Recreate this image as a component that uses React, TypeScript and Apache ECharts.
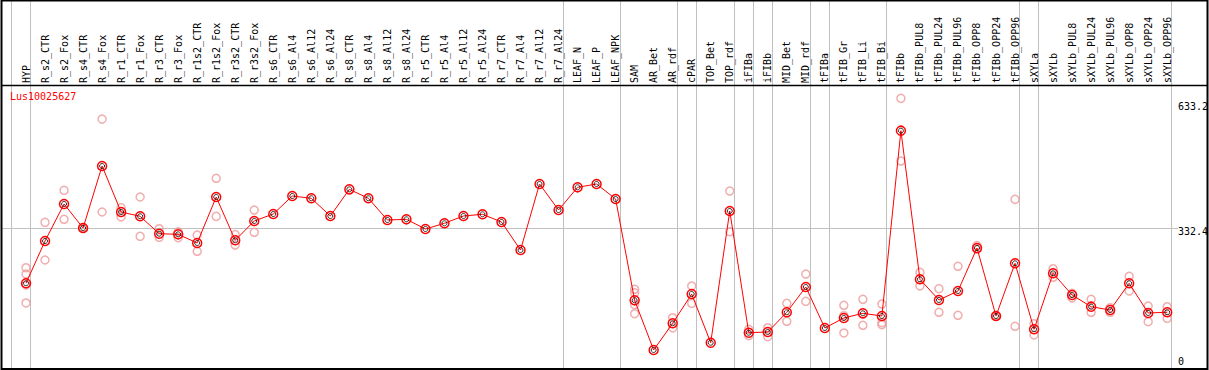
import React, { useEffect, useRef } from "react";
import * as echarts from "echarts";

const geneName = "Lus10025627";

const categories = [
  "HYP",
  "R_s2_CTR", "R_s2_Fox", "R_s4_CTR", "R_s4_Fox",
  "R_r1_CTR", "R_r1_Fox", "R_r3_CTR", "R_r3_Fox",
  "R_r1s2_CTR", "R_r1s2_Fox", "R_r3s2_CTR", "R_r3s2_Fox",
  "R_s6_CTR", "R_s6_Al4", "R_s6_Al12", "R_s6_Al24",
  "R_s8_CTR", "R_s8_Al4", "R_s8_Al12", "R_s8_Al24",
  "R_r5_CTR", "R_r5_Al4", "R_r5_Al12", "R_r5_Al24",
  "R_r7_CTR", "R_r7_Al4", "R_r7_Al12", "R_r7_Al24",
  "LEAF_N", "LEAF_P", "LEAF_NPK",
  "SAM", "AR_Bet", "AR_rdf", "cPAR", "TOP_Bet", "TOP_rdf",
  "iFIBa", "iFIBb", "MID_Bet", "MID_rdf",
  "tFIBa", "tFIB_Gr", "tFIB_Li", "tFIB_Bi",
  "tFIBb", "tFIBb_PUL8", "tFIBb_PUL24", "tFIBb_PUL96", "tFIBb_OPP8", "tFIBb_OPP24", "tFIBb_OPP96",
  "sXYLa", "sXYLb", "sXYLb_PUL8", "sXYLb_PUL24", "sXYLb_PUL96", "sXYLb_OPP8", "sXYLb_OPP24", "sXYLb_OPP96",
];

const means = [
  200,
  301.7, 390.8, 333, 482.2,
  371.5, 361.2, 319.3, 317.8,
  297, 407.6, 303.4, 349.9,
  366.7, 410, 404.5, 361.9,
  426, 404.5, 352.3, 353.9,
  330.6, 344.3, 361.9, 366,
  347.5, 280, 438.9, 376.3,
  430.9, 438.9, 402.8,
  159, 39.5, 103.7, 174.2, 57, 373.9,
  81.1, 82.8, 130.2, 191,
  92.4, 116.5, 127.7, 121.3,
  567.2, 209.6, 159.8, 181.4, 284.9, 121.3, 248.1,
  89.3, 224, 171.8, 143.7, 135.7, 200, 128.5, 130.2,
];

const replicates: number[][] = [
  [237.5, 222.3, 195.9, 152.6],
  [346.7, 256], [423.7, 354], [334, 332], [595, 371.5],
  [381.9, 359.5], [407.6, 313], [331.3, 310.6], [324, 309.7],
  [316, 277], [452.6, 361], [317, 292], [376.3, 322.7],
  [], [], [], [],
  [], [], [], [],
  [], [], [], [],
  [], [], [], [],
  [], [], [],
  [185.5, 177, 148.5, 126.8], [], [117.2, 92.4], [193.5, 151.8], [], [422, 324],
  [89.3, 73.9], [93.1, 71.5], [151.8, 108.5], [222.3, 156.6],
  [], [147, 122, 80.4], [161.5, 98.9], [150.1, 105.2, 100.3],
  [645, 494.2], [226.4, 193.5], [187, 130.2], [240.9, 123], [290.5, 281.8], [122, 120.6], [402, 96.5],
  [102.7, 75.6], [235, 214.4], [175.9, 164.6], [161.5, 130.2], [141.2, 130.2], [216.8, 181.4], [145.3, 107.6], [143.6, 115.7],
];

// last category index of each group (separator drawn right after it)
const groupEnds = [-1, 0, 28, 31, 34, 35, 37, 38, 39, 41, 42, 45, 52, 53, 60];
const yTicks = [0, 332.4, 633.2];
const yMax = 674.7;

const FONT = "'DejaVu Sans Mono', 'Liberation Mono', monospace";
const GRID_TOP = 86;
const GRID_BOTTOM = 3.6;
const W = 1209;
const H = 370;

export default function App() {
  const ref = useRef<HTMLDivElement>(null);

  useEffect(() => {
    document.body.style.margin = "0";
    const chart = echarts.init(ref.current!, null, { renderer: "svg" });

    const repData: number[][] = [];
    replicates.forEach((arr, i) => arr.forEach((v) => repData.push([i, v])));

    chart.setOption({
      animation: false,
      backgroundColor: "#fff",
      grid: { left: 16.5, right: 32.3, top: GRID_TOP, bottom: GRID_BOTTOM },
      xAxis: {
        type: "category",
        data: categories,
        position: "top",
        boundaryGap: true,
        axisLine: { show: false },
        axisTick: { show: false },
        splitLine: { show: false },
        axisLabel: {
          rotate: 90,
          interval: 0,
          fontSize: 10,
          fontFamily: FONT,
          color: "#000",
          margin: 3,
        },
      },
      yAxis: {
        type: "value",
        min: 0,
        max: yMax,
        show: false,
        splitLine: { show: false },
      },
      series: [
        {
          type: "scatter",
          data: repData,
          symbol: "circle",
          symbolSize: 8,
          itemStyle: { color: "rgba(0,0,0,0)", borderColor: "#ec9a9a", borderWidth: 1.5 },
          z: 2,
        },
        {
          type: "line",
          data: means,
          symbol: "circle",
          symbolSize: 9,
          showAllSymbol: true,
          lineStyle: { color: "#ff0000", width: 1 },
          itemStyle: { color: "rgba(0,0,0,0)", borderColor: "#ff0000", borderWidth: 1.5 },
          z: 3,
        },
        {
          type: "scatter",
          data: means.map((v, i) => [i, v]),
          symbol: "circle",
          symbolSize: 5,
          itemStyle: { color: "rgba(0,0,0,0)", borderColor: "#000", borderWidth: 1 },
          z: 4,
        },
      ],
    });

    const cx = (i: number) => chart.convertToPixel({ xAxisIndex: 0 }, i) as number;
    const step = cx(1) - cx(0);
    const catX = (i: number) => (i >= 0 ? cx(i) : cx(0) + i * step);
    const py = (v: number) => chart.convertToPixel({ yAxisIndex: 0 }, v) as number;
    const bottomPx = H - GRID_BOTTOM;

    const elements: any[] = [];
    groupEnds.forEach((g) => {
      const x = Math.round(catX(g) + 4) + 0.5;
      elements.push({
        type: "line",
        z: 0,
        shape: { x1: x, y1: 0, x2: x, y2: H },
        style: { stroke: "#c0c0c0", lineWidth: 1 },
      });
    });
    const gy = Math.round(py(yTicks[1])) + 0.5;
    elements.push({
      type: "line",
      z: 0,
      shape: { x1: 1, y1: gy, x2: 1178, y2: gy },
      style: { stroke: "#c0c0c0", lineWidth: 1 },
    });
    yTicks.forEach((t) => {
      const y = Math.min(py(t) + 3.4, bottomPx - 4.5);
      elements.push({
        type: "text",
        z: 10,
        x: 1178,
        y,
        style: {
          text: String(t),
          fill: "#000",
          font: `10px ${FONT}`,
          align: "left",
          verticalAlign: "middle",
        },
      });
    });
    elements.push({
      type: "text",
      z: 10,
      x: 10,
      y: 96,
      style: { text: geneName, fill: "#ff0000", font: `10px ${FONT}`, align: "left", verticalAlign: "middle" },
    });
    elements.push({
      type: "line",
      z: 9,
      shape: { x1: 1, y1: 85.5, x2: 1207, y2: 85.5 },
      style: { stroke: "#000", lineWidth: 1.5 },
    });
    elements.push({
      type: "rect",
      z: 9,
      shape: { x: 1.5, y: 0.5, width: 1206, height: 368.5 },
      style: { fill: "none", stroke: "#000", lineWidth: 2 },
    });

    chart.setOption({ graphic: { elements } });

    return () => chart.dispose();
  }, []);

  return <div ref={ref} style={{ position: "absolute", left: 0, top: 0, width: W, height: H }} />;
}
